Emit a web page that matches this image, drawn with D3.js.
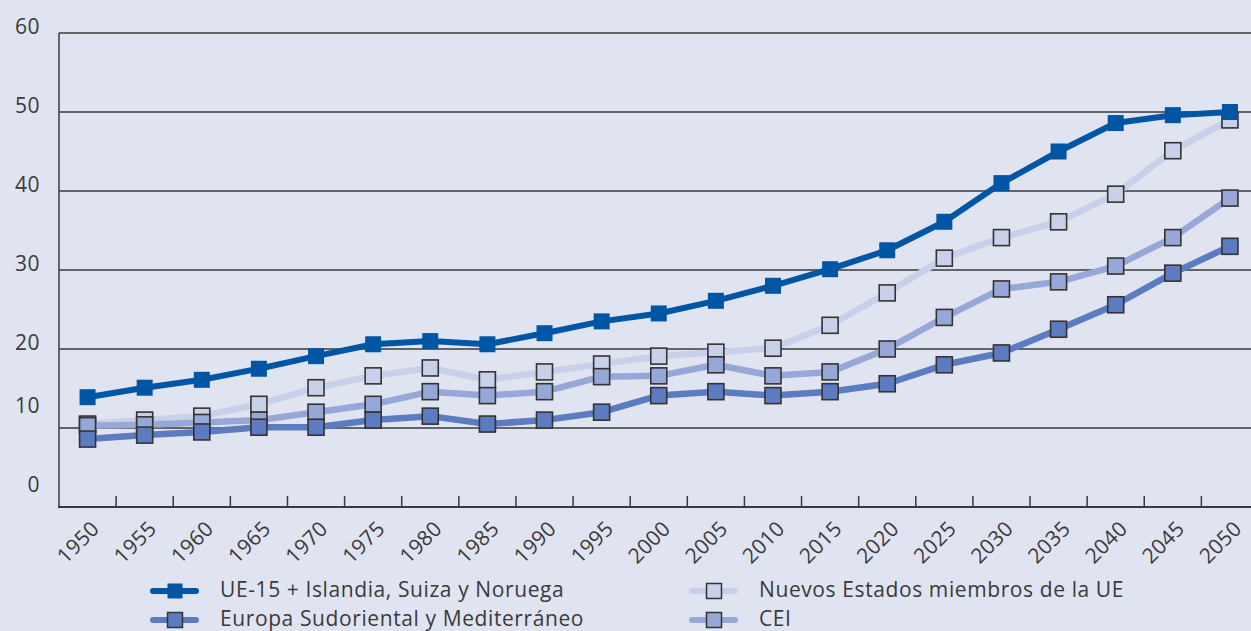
<!DOCTYPE html>
<html>
<head>
<meta charset="utf-8">
<script src="https://cdnjs.cloudflare.com/ajax/libs/d3/7.8.5/d3.min.js"></script>
<style>
  body { margin: 0; background: #e0e4f1; }
  svg { display: block; }
  text { font-family: "Open Sans", sans-serif; fill: #3a3a3a; }
</style>
</head>
<body>
<div id="chart"></div>
<script>
// data (share in %, 1950 - 2050)
var years = ["1950", "1955", "1960", "1965", "1970", "1975", "1980", "1985", "1990", "1995", "2000",
  "2005", "2010", "2015", "2020", "2025", "2030", "2035", "2040", "2045", "2050"];

var ue15 = [13.9, 15.1, 16.1, 17.5, 19.1, 20.6, 21.0, 20.6, 22.0, 23.5, 24.5,
  26.1, 28.0, 30.1, 32.5, 36.1, 41.0, 45.0, 48.6, 49.6, 50.0];
var nuevos = [10.5, 11.0, 11.5, 13.0, 15.1, 16.6, 17.6, 16.1, 17.1, 18.1, 19.1,
  19.6, 20.1, 23.0, 27.1, 31.5, 34.1, 36.1, 39.6, 45.1, 49.0];
var cei = [10.3, 10.4, 10.7, 11.0, 12.0, 13.0, 14.6, 14.1, 14.6, 16.5, 16.6,
  18.0, 16.6, 17.1, 20.0, 24.0, 27.6, 28.5, 30.5, 34.1, 39.1];
var sudoriental = [8.6, 9.1, 9.5, 10.1, 10.1, 11.0, 11.5, 10.5, 11.0, 12.0, 14.1,
  14.6, 14.1, 14.6, 15.6, 18.0, 19.5, 22.5, 25.6, 29.6, 33.0];

var yTicks = [0, 10, 20, 30, 40, 50, 60];

var seriesNames = ["Nuevos Estados miembros de la UE", "CEI", "Europa Sudoriental y Mediterráneo",
  "UE-15 + Islandia, Suiza y Noruega"];

var svgWidth = 1251;
var svgHeight = 631;

var series = [
  { name: seriesNames[0], values: nuevos, color: "#c8d0ea", border: true },
  { name: seriesNames[1], values: cei, color: "#97a7d8", border: true },
  { name: seriesNames[2], values: sudoriental, color: "#5d7bc0", border: true },
  { name: seriesNames[3], values: ue15, color: "#0055a4", border: false }
];

var svg = d3.select("#chart")
  .append("svg")
  .attr("width", svgWidth)
  .attr("height", svgHeight);

// scales - one band per year, the last band runs past the right edge
var x = d3.scaleBand().domain(years).range([59, 1258.5]).padding(0);
var y = d3.scaleLinear().domain([0, 60]).range([507, 33]);

function cx(d, i) { return x(years[i]) + x.bandwidth() / 2; }

// gridlines
svg.append("g")
  .selectAll("line")
  .data(yTicks.filter(function(d) { return d > 0; }))
  .enter()
  .append("line")
  .attr("x1", 59)
  .attr("x2", svgWidth)
  .attr("y1", function(d) { return y(d); })
  .attr("y2", function(d) { return y(d); })
  .attr("stroke", "#3a3a3a")
  .attr("stroke-width", 1.5);

// y labels (the 10 and 0 sit a bit higher than the others)
svg.append("g")
  .selectAll("text")
  .data(yTicks)
  .enter()
  .append("text")
  .attr("x", 40)
  .attr("y", function(d) { return y(d) + (d <= 10 ? -15 : 1); })
  .attr("text-anchor", "end")
  .style("font-size", "21px")
  .style("letter-spacing", "0.5px")
  .text(function(d) { return d; });

// axes
svg.append("line")
  .attr("x1", 59).attr("x2", 59)
  .attr("y1", y(60)).attr("y2", y(0) + 1)
  .attr("stroke", "#3a3a3a")
  .attr("stroke-width", 1.5);

svg.append("line")
  .attr("x1", 58).attr("x2", svgWidth)
  .attr("y1", y(0)).attr("y2", y(0))
  .attr("stroke", "#3a3a3a")
  .attr("stroke-width", 2);

// ticks between the years
svg.append("g")
  .selectAll("line")
  .data(years.slice(1))
  .enter()
  .append("line")
  .attr("x1", function(d) { return x(d); })
  .attr("x2", function(d) { return x(d); })
  .attr("y1", y(0) - 11)
  .attr("y2", y(0))
  .attr("stroke", "#3a3a3a")
  .attr("stroke-width", 1.5);

// year labels, rotated
svg.append("g")
  .selectAll("text")
  .data(years)
  .enter()
  .append("text")
  .attr("transform", function(d) {
    return "translate(" + (x(d) + x.bandwidth() / 2 + 13) + "," + 530 + ") rotate(-45)";
  })
  .attr("text-anchor", "end")
  .style("font-size", "21px")
  .style("letter-spacing", "0.3px")
  .text(function(d) { return d; });

// the series: line first, then the squares
var line = d3.line()
  .x(cx)
  .y(function(d) { return y(d); });

var markSize = 16;

series.forEach(function(s) {
  var g = svg.append("g");

  g.append("path")
    .datum(s.values)
    .attr("d", line)
    .attr("fill", "none")
    .attr("stroke", s.color)
    .attr("stroke-width", s.border ? 6.5 : 6)
    .attr("stroke-linejoin", "round");

  g.selectAll("rect")
    .data(s.values)
    .enter()
    .append("rect")
    .attr("x", function(d, i) { return cx(d, i) - markSize / 2; })
    .attr("y", function(d) { return y(d) - markSize / 2; })
    .attr("width", markSize)
    .attr("height", markSize)
    .attr("fill", s.color)
    .attr("stroke", s.border ? "#333" : "none")
    .attr("stroke-width", 1.6);
});

// legend - two columns, ordered like the original
var legendItems = [
  { s: series[3], x: 153, y: 591 },
  { s: series[2], x: 153, y: 620 },
  { s: series[0], x: 692, y: 591 },
  { s: series[1], x: 692, y: 620 }
];

var legend = svg.append("g");

legendItems.forEach(function(item) {
  var lg = legend.append("g").attr("transform", "translate(" + item.x + "," + item.y + ")");
  lg.append("line")
    .attr("x1", 0).attr("x2", 43)
    .attr("y1", 0).attr("y2", 0)
    .attr("stroke", item.s.color)
    .attr("stroke-width", 6)
    .attr("stroke-linecap", "round");
  lg.append("rect")
    .attr("x", 22 - 7.5).attr("y", -7.5)
    .attr("width", 15).attr("height", 15)
    .attr("fill", item.s.color)
    .attr("stroke", item.s.border ? "#333" : "none")
    .attr("stroke-width", 1.5);
  lg.append("text")
    .attr("x", 67)
    .attr("y", 6)
    .style("font-size", "21px")
    .style("letter-spacing", "0.6px")
    .text(item.s.name);
});
</script>
</body>
</html>
